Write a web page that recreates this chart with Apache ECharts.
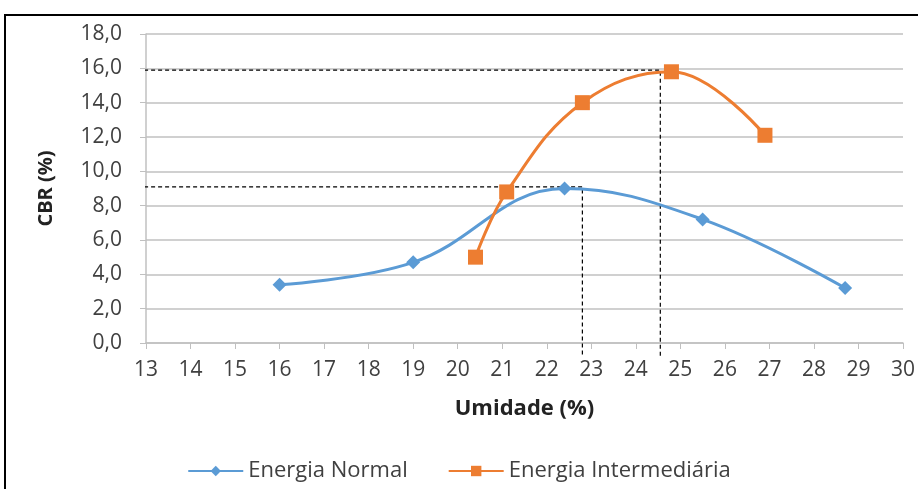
<!DOCTYPE html>
<html lang="pt">
<head>
    <meta charset="UTF-8">
    <title>CBR x Umidade</title>
    <script src="https://cdn.jsdelivr.net/npm/echarts@6/dist/echarts.min.js"></script>
    <style>
        html, body { margin: 0; padding: 0; background: #fff; }
    </style>
</head>
<body>
    <div id="myChart" style="width: 918px; height: 489px;"></div>
    <script>
        // dados
        var normalX = [16, 19, 22.4, 25.5, 28.7];
        var normalY = [3.4, 4.7, 9.0, 7.2, 3.2];
        var intermX = [20.4, 21.1, 22.8, 24.8, 26.9];
        var intermY = [5.0, 8.8, 14.0, 15.8, 12.1];

        // linhas tracejadas (máximos)
        var guide1 = [[12.8, 15.9], [24.55, 15.9], [24.55, -0.85]];
        var guide2 = [[12.8, 9.1], [22.8, 9.1], [22.8, -0.85]];

        function pairs(xs, ys) {
            return xs.map(function (x, i) { return [x, ys[i]]; });
        }

        var myChart = echarts.init(document.getElementById('myChart'));
        var txt = '#404040';
        var gray = '#c0c0c0';
        var font = 'Open Sans';

        var option = {
            animation: false,
            textStyle: { fontFamily: font },
            graphic: [{
                type: 'rect',
                shape: { x: 5, y: 15, width: 930, height: 500 },
                style: { fill: 'none', stroke: '#000', lineWidth: 2 }
            }],
            grid: { left: 146, right: 13, top: 34, bottom: 146 },
            legend: {
                bottom: 2,
                left: 'center',
                itemGap: 40,
                itemWidth: 55,
                itemHeight: 13,
                textStyle: { color: txt, fontSize: 22, fontFamily: font },
                data: ['Energia Normal', 'Energia Intermediária']
            },
            xAxis: {
                type: 'value',
                min: 13, max: 30, interval: 1,
                name: 'Umidade (%)',
                nameLocation: 'middle',
                nameGap: 55,
                nameTextStyle: { color: '#222', fontSize: 22, fontWeight: 'bold', fontFamily: font },
                axisLine: { lineStyle: { color: gray, width: 1.5 } },
                axisTick: { show: true, length: 6, lineStyle: { color: gray } },
                axisLabel: { color: txt, fontSize: 21, margin: 17 },
                splitLine: { show: false }
            },
            yAxis: {
                type: 'value',
                min: 0, max: 18, interval: 2,
                name: 'CBR (%)',
                nameLocation: 'middle',
                nameGap: 90,
                nameRotate: 90,
                nameTextStyle: { color: '#222', fontSize: 20, fontWeight: 'bold', fontFamily: font },
                axisLine: { show: true, lineStyle: { color: gray, width: 1.5 } },
                axisTick: { show: true, length: 6, lineStyle: { color: gray } },
                axisLabel: {
                    color: txt, fontSize: 21, margin: 24,
                    formatter: function (v) { return v.toFixed(1).replace('.', ','); }
                },
                splitLine: { lineStyle: { color: gray, width: 1.5 } }
            },
            series: [
                {
                    name: 'guia1', type: 'line', data: guide1, clip: false,
                    symbol: 'none', silent: true, z: 1,
                    lineStyle: { color: '#000', width: 1.2, type: [4, 3] }
                },
                {
                    name: 'guia2', type: 'line', data: guide2, clip: false,
                    symbol: 'none', silent: true, z: 1,
                    lineStyle: { color: '#000', width: 1.2, type: [4, 3] }
                },
                {
                    name: 'Energia Normal', type: 'line',
                    data: pairs(normalX, normalY),
                    smooth: 0.4,
                    symbol: 'diamond', symbolSize: 14,
                    itemStyle: { color: '#5b9bd5' },
                    lineStyle: { color: '#5b9bd5', width: 3 }
                },
                {
                    name: 'Energia Intermediária', type: 'line',
                    data: pairs(intermX, intermY),
                    smooth: 0.4,
                    symbol: 'rect', symbolSize: 15,
                    itemStyle: { color: '#ed7d31' },
                    lineStyle: { color: '#ed7d31', width: 3 }
                }
            ]
        };

        myChart.setOption(option);
    </script>
</body>
</html>
